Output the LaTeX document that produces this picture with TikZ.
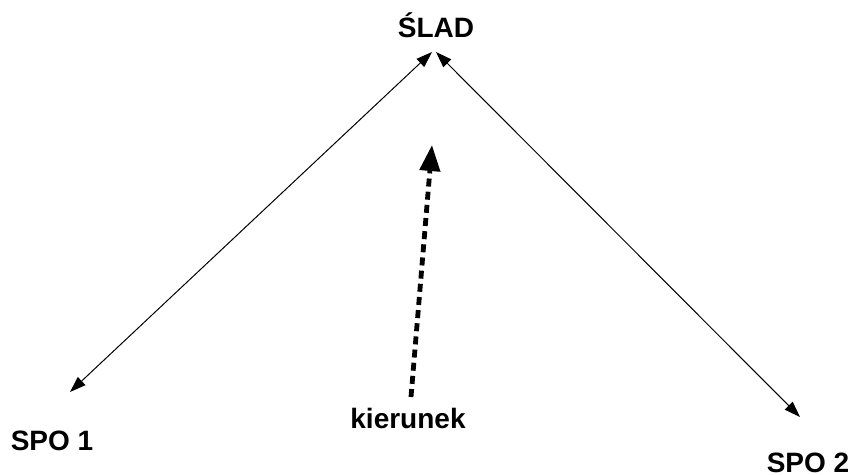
\documentclass[tikz,border=0pt]{standalone}
\usepackage{fontspec}
\setmainfont{Liberation Sans}
\usetikzlibrary{arrows.meta}

\begin{document}
\begin{tikzpicture}[x=0.5pt,y=-0.5pt,
    label/.style={font=\fontsize{14}{16}\selectfont\bfseries,inner sep=0pt,anchor=base},
    thinarrow/.style={line width=0.5pt,{Triangle[length=8pt,width=5.5pt]}-{Triangle[length=8pt,width=5.5pt]}},
    dirarrow/.style={line width=2.4pt,dash pattern=on 4pt off 2.6pt,-{Triangle[length=13pt,width=10pt]}}]
  \useasboundingbox (0,0) rectangle (855,475);
  % \draw[thin,gray!40] (0,0) grid[step=50] (855,475);
  \node[label] (slad) at (436,38) {ŚLAD};
  \node[label] (spoone) at (52,450) {SPO 1};
  \node[label] (spotwo) at (808,472) {SPO 2};
  \node[label] (kierunek) at (408,428) {kierunek};
  \coordinate (apexl) at (432,52);
  \coordinate (apexr) at (436,52);
  \coordinate (endl) at (70,392);
  \coordinate (endr) at (800,417);
  \coordinate (dirtop) at (432,145);
  \coordinate (dirbot) at (411,397);
  \draw[thinarrow] (endl)--(apexl);
  \draw[thinarrow] (apexr)--(endr);
  \draw[dirarrow] (dirbot)--(dirtop);
\end{tikzpicture}
\end{document}
